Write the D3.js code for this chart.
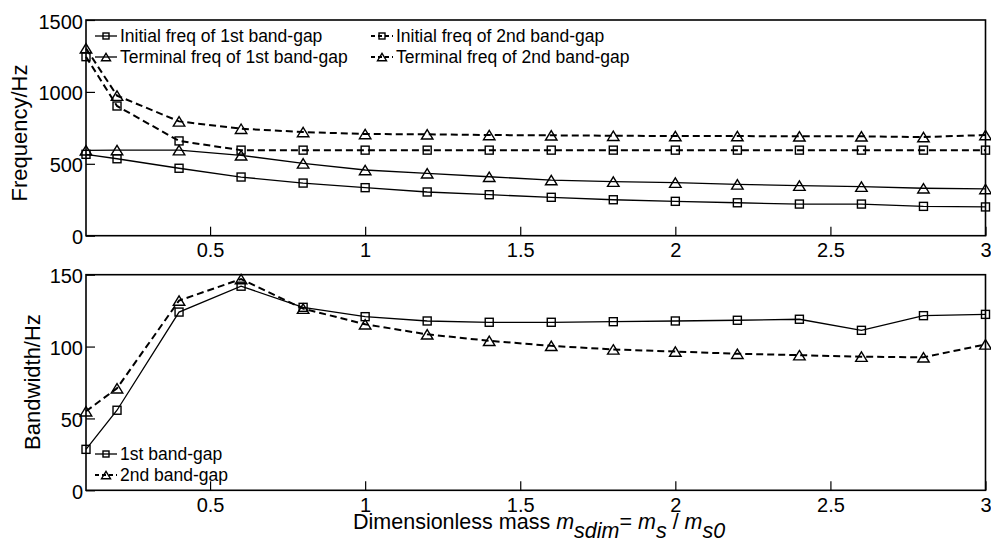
<!DOCTYPE html>
<meta charset="utf-8">
<style>
body{margin:0;background:white}
text{font-family:"Liberation Sans",Arial,sans-serif;fill:#000}
.tick line{stroke:#000;stroke-width:1.2px}
.tick text{font-size:20px}
.frame{fill:none;stroke:#000;stroke-width:1.6px}
.series{fill:none;stroke:#000}
.mk{fill:none;stroke:#000;stroke-width:1.4px}
.leg text{font-size:17.5px}
</style>
<svg width="991" height="545"></svg>
<script src="https://d3js.org/d3.v7.min.js"></script>
<script>
// x values (dimensionless mass)
var massVals = [0.1,0.2,0.4,0.6,0.8,1.0,1.2,1.4,1.6,1.8,2.0,2.2,2.4,2.6,2.8,3.0];

// top panel, Hz
var initFreq1 = [566,535,469,408,366,334,304,285,267,250,239,229,220,220,204,200];
var termFreq1 = [594,595,595,559,503,457,434,410,387,376,369,357,348,341,330,325];
var initFreq2 = [1245,902,659,595,595,595,595,595,595,595,595,595,595,595,595,595];
var termFreq2 = [1303,974,795,744,721,707,705,700,698,695,693,693,691,691,686,700];

// bottom panel, Hz
var bandwidth1 = [28.5,55.7,124,142,127.3,120.8,117.8,116.9,116.9,117.3,117.8,118.3,119,111.3,121.5,122.4];
var bandwidth2 = [55,71,132,147,126.4,115.5,108.5,104,100.5,98,96.5,95,94,93,92.5,101.5];

var xTicks = [0.5,1,1.5,2,2.5,3];
var topTicks = [0,500,1000,1500];
var botTicks = [0,50,100,150];

var svg = d3.select("svg");

var x = d3.scaleLinear().domain([0.1,3]).range([86,985.5]);
var yTop = d3.scaleLinear().domain([0,1500]).range([235.7,20]);
var yBot = d3.scaleLinear().domain([0,150]).range([490.3,274.7]);

function panel(y, ticks) {
  var g = svg.append("g");
  var y0 = y.range()[0], y1 = y.range()[1];

  g.append("g")
      .attr("transform","translate(0," + y0 + ")")
      .call(d3.axisBottom(x).tickValues(xTicks).tickSize(-9).tickPadding(7.5).tickFormat(d3.format("")))
      .call(function(a){ a.select(".domain").remove(); a.selectAll("text").attr("font-family",null).attr("font-size",null); });

  g.append("g")
      .attr("transform","translate(" + x.range()[0] + ",0)")
      .call(d3.axisLeft(y).tickValues(ticks).tickSize(-9).tickPadding(3).tickFormat(d3.format("")))
      .call(function(a){ a.select(".domain").remove(); a.selectAll("text").attr("font-family",null).attr("font-size",null).attr("dy","0.4em"); });

  g.append("rect").attr("class","frame")
      .attr("x",x.range()[0]).attr("y",y1)
      .attr("width",x.range()[1]-x.range()[0]).attr("height",y0-y1);
  return g;
}

function square(sel, s) {
  sel.append("rect").attr("class","mk")
     .attr("x",-s/2).attr("y",-s/2).attr("width",s).attr("height",s);
}
function triangle(sel, w) {
  var h = w*0.82;
  sel.append("path").attr("class","mk")
     .attr("d","M0," + (-h/2) + "L" + (w/2) + "," + (h/2) + "L" + (-w/2) + "," + (h/2) + "Z");
}

function drawSeries(g, y, vals, dashed, marker) {
  var line = d3.line().x(function(d,i){ return x(massVals[i]); }).y(function(d){ return y(d); });
  g.append("path").datum(vals).attr("class","series")
      .attr("d", line)
      .attr("stroke-width", dashed ? 2 : 1.3)
      .attr("stroke-dasharray", dashed ? "7,4" : null);
  g.selectAll(null).data(vals).enter().append("g")
      .attr("transform", function(d,i){ return "translate(" + x(massVals[i]) + "," + y(d) + ")"; })
      .each(function(){ if (marker == "sq") square(d3.select(this), 8); else triangle(d3.select(this), 11.5); });
}

function legendItem(g, lx, ly, label, dashed, marker) {
  var it = g.append("g").attr("class","leg").attr("transform","translate(" + lx + "," + ly + ")");
  it.append("line").attr("x1",0).attr("x2",22).attr("stroke","#000")
     .attr("stroke-width", dashed ? 2 : 1.3).attr("stroke-dasharray", dashed ? "4,3" : null);
  var m = it.append("g").attr("transform","translate(11,0)");
  if (marker == "sq") square(m, 6); else triangle(m, 9);
  it.append("text").attr("x",25).attr("dy","0.36em").text(label);
}

var topG = panel(yTop, topTicks);
drawSeries(topG, yTop, initFreq1, false, "sq");
drawSeries(topG, yTop, termFreq1, false, "tri");
drawSeries(topG, yTop, initFreq2, true, "sq");
drawSeries(topG, yTop, termFreq2, true, "tri");
legendItem(topG, 95, 36, "Initial freq of 1st band-gap", false, "sq");
legendItem(topG, 95, 57, "Terminal freq of 1st band-gap", false, "tri");
legendItem(topG, 371, 36, "Initial freq of 2nd band-gap", true, "sq");
legendItem(topG, 371, 57, "Terminal freq of 2nd band-gap", true, "tri");

var botG = panel(yBot, botTicks);
drawSeries(botG, yBot, bandwidth1, false, "sq");
drawSeries(botG, yBot, bandwidth2, true, "tri");
legendItem(botG, 95, 454, "1st band-gap", false, "sq");
legendItem(botG, 95, 475, "2nd band-gap", true, "tri");

// axis titles
svg.append("text").attr("transform","translate(27,133) rotate(-90)")
   .attr("text-anchor","middle").attr("font-size",22).text("Frequency/Hz");
svg.append("text").attr("transform","translate(40,382) rotate(-90)")
   .attr("text-anchor","middle").attr("font-size",22).text("Bandwidth/Hz");

var xl = svg.append("text").attr("x",353).attr("y",529).attr("font-size",21.5);
xl.append("tspan").text("Dimensionless mass ");
xl.append("tspan").attr("font-style","italic").text("m");
xl.append("tspan").attr("font-style","italic").attr("dy",9).text("sdim");
xl.append("tspan").attr("dy",-9).text("= ");
xl.append("tspan").attr("font-style","italic").text("m");
xl.append("tspan").attr("font-style","italic").attr("dy",9).text("s");
xl.append("tspan").attr("dy",-9).text(" / ");
xl.append("tspan").attr("font-style","italic").text("m");
xl.append("tspan").attr("font-style","italic").attr("dy",9).text("s0");
</script>
